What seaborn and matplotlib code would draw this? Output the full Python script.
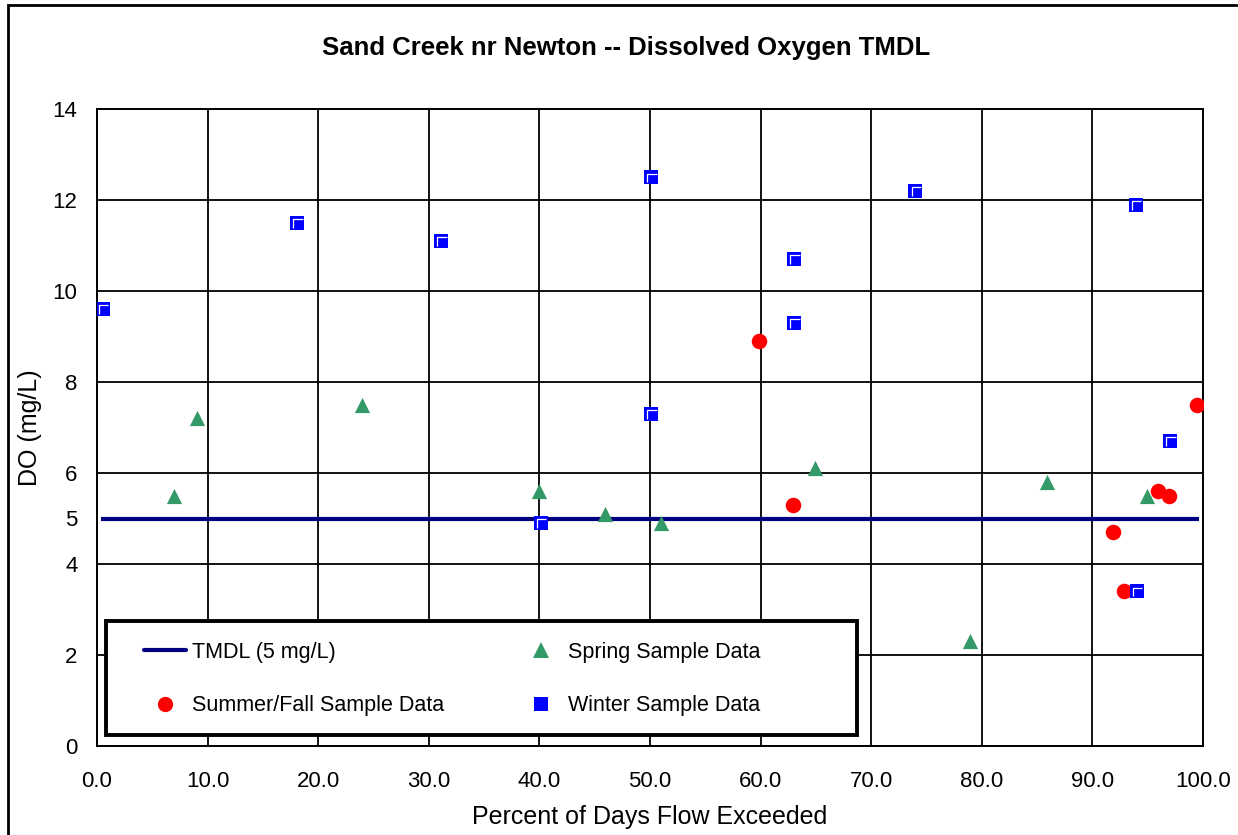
import matplotlib
matplotlib.use("Agg")
import matplotlib.pyplot as plt
from matplotlib.patches import Rectangle
from matplotlib.path import Path
from matplotlib.lines import Line2D
import seaborn as sns
import pandas as pd

# ---------------- data ----------------
winter_x = [0.5, 18.1, 31.1, 40.1, 50.1, 50.1, 63.0, 63.0, 74.0, 93.9, 97.0, 94.0]
winter_y = [9.6, 11.5, 11.1, 4.9, 12.5, 7.3, 10.7, 9.3, 12.2, 11.9, 6.7, 3.4]

summer_x = [59.9, 62.9, 99.5, 95.9, 96.9, 91.9, 92.9]
summer_y = [8.9, 5.3, 7.5, 5.6, 5.5, 4.7, 3.4]

spring_x = [7.0, 9.0, 24.0, 40.0, 45.9, 51.0, 64.9, 85.9, 94.9, 78.9]
spring_y = [5.5, 7.2, 7.5, 5.6, 5.1, 4.9, 6.1, 5.8, 5.5, 2.3]

tmdl_x = [0.4, 99.6]
tmdl_y = [5, 5]

x_ticks = [0, 10, 20, 30, 40, 50, 60, 70, 80, 90, 100]
y_ticks = [0, 2, 4, 6, 8, 10, 12, 14]
y_extra_tick = [5]

title = "Sand Creek nr Newton -- Dissolved Oxygen TMDL"
xlabel = "Percent of Days Flow Exceeded"
ylabel = "DO (mg/L)"
labels = ["TMDL (5 mg/L)", "Summer/Fall Sample Data", "Spring Sample Data", "Winter Sample Data"]

# ---------------- style ----------------
sns.set_theme(style="white")
plt.rcParams["font.family"] = ["Liberation Sans", "DejaVu Sans"]

W, H = 1238, 835
fig = plt.figure(figsize=(W / 100, H / 100), dpi=100)
ax = fig.add_axes([97 / W, 1 - 746 / H, (1203 - 97) / W, (746 - 109) / H])

df_w = pd.DataFrame({"x": winter_x, "y": winter_y})
df_s = pd.DataFrame({"x": summer_x, "y": summer_y})
df_p = pd.DataFrame({"x": spring_x, "y": spring_y})
df_t = pd.DataFrame({"x": tmdl_x, "y": tmdl_y})

navy = "#000080"
red = "#FF0000"
green = "#339966"
blue = "#0000FF"

sns.lineplot(data=df_t, x="x", y="y", ax=ax, color=navy, linewidth=3.0, zorder=3,
             solid_capstyle="butt", legend=False)
sns.scatterplot(data=df_p, x="x", y="y", ax=ax, marker="^", s=120, color=green,
                edgecolor=green, linewidth=0, zorder=4, legend=False)
sns.scatterplot(data=df_s, x="x", y="y", ax=ax, marker="o", s=125, color=red,
                edgecolor=red, linewidth=0, zorder=4, legend=False)
sns.scatterplot(data=df_w, x="x", y="y", ax=ax, marker="s", s=96, color=blue,
                edgecolor=blue, linewidth=0, zorder=4, legend=False)

# white highlight inside the winter squares (Excel style)
hl_path = Path(
    [(1, 1), (-1, -1), (-0.55, -0.75), (-0.55, 0.55), (0.85, 0.55)],
    [Path.MOVETO, Path.MOVETO, Path.MOVETO, Path.LINETO, Path.LINETO],
)
ax.scatter(winter_x, winter_y, marker=hl_path, s=96, facecolors="none",
           edgecolors="white", linewidths=0.9, zorder=5)

# ---------------- axes ----------------
ax.set_xlim(0, 100)
ax.set_ylim(0, 14)
ax.set_xticks(x_ticks)
ax.set_xticklabels([f"{v:.1f}" for v in x_ticks])
ax.set_yticks(y_ticks)
ax.set_yticklabels([str(v) for v in y_ticks])
ax.set_yticks(y_extra_tick, minor=True)
ax.set_yticklabels([str(v) for v in y_extra_tick], minor=True)

ax.tick_params(axis="both", which="both", direction="out", length=6, width=1.3,
               color="black", labelsize=16, labelcolor="black")
ax.tick_params(axis="y", which="both", pad=8)
ax.tick_params(axis="x", which="both", pad=12)

ax.grid(True, which="major", color="black", linewidth=1.3)
ax.set_axisbelow(True)
for sp in ax.spines.values():
    sp.set_visible(True)
    sp.set_color("black")
    sp.set_linewidth(1.4)

ax.set_xlabel(xlabel, fontsize=18, color="black")
ax.set_ylabel(ylabel, fontsize=18, color="black")
ax.xaxis.set_label_coords(0.5, -0.092)
ax.yaxis.set_label_coords(-0.050, 0.5)

fig.text(626 / W, 1 - 48 / H, title, ha="center", va="center", fontsize=18.5,
         fontweight="bold", color="black")

# ---------------- legend ----------------
box = Rectangle(((106 - 97) / 1106, (746 - 735) / 637), (857 - 106) / 1106, (735 - 621) / 637,
                transform=ax.transAxes, facecolor="white", edgecolor="black",
                linewidth=2.8, zorder=6)
ax.add_patch(box)

handles = [
    Line2D([], [], color=navy, linewidth=3.0),
    Line2D([], [], linestyle="none", marker="o", markersize=11, color=red, markeredgewidth=0),
    Line2D([], [], linestyle="none", marker="^", markersize=11, color=green, markeredgewidth=0),
    Line2D([], [], linestyle="none", marker="s", markersize=9.8, color=blue, markeredgewidth=0),
]
leg = ax.legend(handles, labels, ncol=2, loc="upper left",
                bbox_to_anchor=((144 - 97) / 1106, (746 - 642) / 637),
                frameon=False, fontsize=15.5, borderpad=0, handlelength=1.95,
                handletextpad=0.3, columnspacing=3.5, labelspacing=1.5,
                borderaxespad=0, labelcolor="black")
leg.set_zorder(7)

# figure border
fig.patches.append(Rectangle((8 / W, -0.1), 1.2, 1 - 5 / H + 0.1, transform=fig.transFigure,
                             facecolor="none", edgecolor="black", linewidth=2.0,
                             clip_on=False))

fig.savefig("out.png", dpi=100)
